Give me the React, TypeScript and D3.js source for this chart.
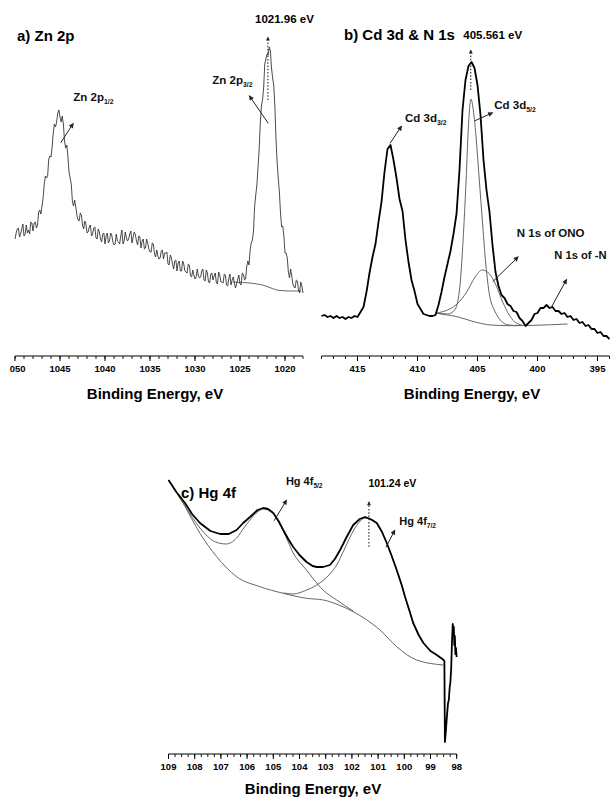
import React from "react";
import * as d3 from "d3";

const FONT = "'Liberation Sans', Arial, Helvetica, sans-serif";

// ---------- a) Zn 2p ----------
const znStartEV = 1050;
const znStepEV = 0.125;
const znCounts = [
  61, 67, 71, 72, 63, 66, 71, 76, 64, 66, 75, 67, 70, 66, 78, 77, 69, 77, 78, 72,
  75, 88, 90, 86, 94, 102, 116, 124, 122, 124, 141, 144, 143, 153, 167, 176, 173, 178, 187, 190,
  183, 178, 184, 176, 159, 152, 155, 144, 128, 122, 116, 99, 94, 100, 93, 85, 80, 79, 87, 85,
  75, 71, 79, 76, 67, 68, 73, 75, 64, 66, 72, 73, 62, 61, 71, 68, 61, 58, 66, 67,
  56, 64, 67, 57, 59, 67, 65, 58, 55, 56, 66, 59, 58, 56, 64, 70, 56, 59, 68, 62,
  59, 61, 66, 69, 57, 63, 68, 65, 59, 55, 64, 63, 52, 59, 61, 51, 52, 61, 57, 51,
  48, 48, 57, 56, 46, 43, 50, 44, 41, 42, 49, 50, 41, 47, 47, 48, 36, 35, 45, 42,
  36, 31, 39, 40, 29, 37, 39, 29, 29, 39, 36, 29, 28, 27, 36, 35, 24, 23, 30, 25,
  21, 23, 31, 24, 22, 23, 29, 31, 20, 19, 30, 27, 18, 17, 26, 27, 20, 24, 27, 17,
  16, 28, 25, 18, 18, 17, 26, 25, 15, 14, 21, 26, 15, 20, 23, 17, 12, 16, 21, 25,
  16, 15, 27, 26, 20, 21, 34, 39, 35, 50, 57, 60, 69, 94, 105, 115, 132, 150, 176, 194,
  200, 212, 236, 241, 246, 245, 253, 249, 232, 222, 215, 194, 161, 138, 122, 108, 87, 73, 74, 64,
  47, 47, 42, 28, 22, 31, 24, 16, 13, 12, 20, 19, 10, 7, 18, 14, 7,
];
const znBgEV = [1025.8, 1024.7, 1023.9, 1023.1, 1022.5, 1022.0, 1021.4, 1020.9, 1020.2, 1019.4, 1018.2];
const znBgCounts = [18, 17.5, 17, 16, 15, 13.5, 11.5, 10, 9.3, 9, 9];
const znMajorTicks = [1050, 1045, 1040, 1035, 1030, 1025, 1020];

// ---------- b) Cd 3d & N 1s ----------
const cdStartEV = 418;
const cdStepEV = 0.25;
const cdCounts = [
  24, 25, 23, 24, 22, 24, 22, 23, 21, 23,
  22, 24, 23, 28, 33, 48, 67, 83, 96, 118,
  138, 168, 191, 195, 180, 162, 141, 129, 100, 78,
  60, 49, 36, 31, 26, 25, 24, 24, 25, 35,
  48, 63, 76, 89, 106, 126, 170, 230, 260, 274,
  278, 272, 255, 225, 180, 150, 128, 95, 68, 54,
  45, 42, 36, 34, 29, 28, 22, 19, 14, 17,
  20, 26, 27, 32, 32, 35, 32, 33, 29, 29,
  26, 27, 23, 24, 20, 21, 17, 18, 14, 15,
  11, 11, 7, 8, 4, 4, 1,
];
const cdBgEV = [408.4, 407.5, 406.7, 405.3, 403.9, 402.0, 400.3, 397.5];
const cdBgCounts = [26.7, 25, 23.3, 18.3, 15, 14.3, 14.7, 16];
const onoEV = [408.4, 407.5, 406.7, 405.9, 405.2, 404.6, 404.0, 403.5, 402.9, 402.4, 401.9, 401.3];
const onoCounts = [27, 30, 36, 48, 63, 70, 66, 56, 38, 26, 18, 15];
const cd52EV = [408.4, 407.5, 406.9, 406.5, 406.2, 405.95, 405.75, 405.55, 405.35, 405.1, 404.85, 404.6, 404.3, 404.0, 403.6, 403.1, 402.4, 401.5];
const cd52Counts = [27, 26, 30, 50, 100, 160, 215, 241, 230, 200, 160, 120, 75, 45, 30, 20, 15, 14.5];
const cdMajorTicks = [415, 410, 405, 400, 395];

// ---------- c) Hg 4f ----------
const hgEV = [
  109.0, 108.7, 108.37, 108.1, 107.8, 107.4, 107.03, 106.7, 106.4, 106.15,
  105.89, 105.6, 105.38, 105.2, 105.0, 104.8, 104.62, 104.43, 104.24, 104.0,
  103.73, 103.5, 103.34, 103.1, 102.84, 102.65, 102.45, 102.2, 101.95, 101.7,
  101.5, 101.3, 101.05, 100.85, 100.67, 100.48, 100.29, 100.1, 99.97, 99.8,
  99.66, 99.45, 99.27, 99.0, 98.76, 98.6, 98.5, 98.47, 98.45, 98.41,
  98.37, 98.33, 98.3, 98.27, 98.24, 98.21, 98.18, 98.15, 98.13, 98.11,
  98.09, 98.07, 98.05, 98.03, 98.0,
];
const hgCounts = [
  280, 268, 257, 246, 237, 229, 226, 226, 230, 237,
  243, 250, 252, 251, 247, 239, 230, 221, 213, 205,
  198, 194, 193, 193, 195, 201, 210, 223, 235, 241,
  243, 241, 237, 228, 217, 204, 190, 175, 163, 149,
  137, 125, 117, 109, 105, 102, 100, 99, 18, 30,
  45, 57, 60, 72, 78, 92, 118, 136, 126, 133,
  115, 124, 106, 112, 103,
];
const hgBgEV = [109.0, 108.44, 107.8, 107.16, 106.4, 105.51, 104.62, 103.73, 103.09, 102.5, 101.95, 100.93, 100.29, 99.53, 98.51];
const hgBgCounts = [280, 256.7, 226.7, 203.3, 183.3, 173.3, 166.7, 161.7, 160, 155, 148.3, 130, 113.3, 100, 95];
const hg52EV = [109.0, 108.44, 107.8, 107.2, 106.8, 106.4, 106.1, 105.89, 105.6, 105.38, 105.2, 105.0, 104.8, 104.62, 104.43, 104.24, 104.0, 103.73, 103.5, 103.1, 102.58, 101.95];
const hg52Counts = [280, 257, 232, 218, 216, 222, 233, 240, 248, 251, 250, 246, 238, 229, 218, 207, 198, 190, 182, 170, 160, 149];
const hg72EV = [104.62, 104.24, 103.73, 103.34, 102.84, 102.58, 102.3, 102.07, 101.75, 101.5, 101.3, 101.05, 100.85, 100.67, 100.48, 100.29, 100.1, 99.97, 99.8, 99.66, 99.45, 99.27, 99.0, 98.76, 98.6, 98.5];
const hg72Counts = [167, 166, 170, 175, 186, 195, 210, 223, 237, 242, 241, 237, 228, 217, 204, 190, 175, 163, 149, 137, 125, 117, 109, 105, 102, 100];
const hgMajorTicks = [109, 108, 107, 106, 105, 104, 103, 102, 101, 100, 99, 98];

// ---------- scales ----------
const xA = d3.scaleLinear().domain([1050, 1018]).range([15, 303]);
const yA = d3.scaleLinear().domain([0, 260]).range([300, 40]);
const xB = d3.scaleLinear().domain([418, 394]).range([321.5, 609.5]);
const yB = d3.scaleLinear().domain([0, 280]).range([340, 60]);
const xC = d3.scaleLinear().domain([109, 98]).range([168.5, 456.7]);
const yC = d3.scaleLinear().domain([0, 300]).range([760, 460]);

type Sc = d3.ScaleLinear<number, number>;

function linePath(xs: number[], ys: number[], x: Sc, y: Sc, curve: any = d3.curveLinear) {
  const pts = xs.map((e, i) => [e, ys[i]] as [number, number]);
  return d3.line<[number, number]>().x((d) => x(d[0])).y((d) => y(d[1])).curve(curve)(pts) || "";
}

function XAxis({ x, y, majors, minorStep, clip }: { x: Sc; y: number; majors: number[]; minorStep: number; clip?: string }) {
  const [d0, d1] = x.domain();
  const lo = Math.min(d0, d1), hi = Math.max(d0, d1);
  const minors = d3.range(Math.ceil(lo / minorStep - 1e-6) * minorStep, hi + 1e-6, minorStep);
  const [r0, r1] = x.range();
  return (
    <g>
      <line x1={r0} x2={r1} y1={y} y2={y} stroke="#000" strokeWidth={1} />
      {minors.map((v, i) => (
        <line key={"m" + i} x1={x(v)} x2={x(v)} y1={y} y2={y + 3} stroke="#000" strokeWidth={0.9} />
      ))}
      {majors.map((v) => (
        <line key={"M" + v} x1={x(v)} x2={x(v)} y1={y} y2={y + 5} stroke="#000" strokeWidth={1} />
      ))}
      <g clipPath={clip ? `url(#${clip})` : undefined}>
        {majors.map((v) => (
          <text key={"t" + v} x={x(v)} y={y + 15.5} textAnchor="middle" fontSize={9.5} fontWeight="bold">
            {v}
          </text>
        ))}
      </g>
    </g>
  );
}

function Arrow({ x, y, from, to }: { x: Sc; y: Sc; from: number[]; to: number[] }) {
  return (
    <line x1={x(from[0])} y1={y(from[1])} x2={x(to[0])} y2={y(to[1])} stroke="#222" strokeWidth={1} markerEnd="url(#ah)" />
  );
}

function Dotted({ x, y, e, i0, i1 }: { x: Sc; y: Sc; e: number; i0: number; i1: number }) {
  return (
    <line x1={x(e)} x2={x(e)} y1={y(i0)} y2={y(i1)} stroke="#222" strokeWidth={1.1} strokeDasharray="1.5,1.8" markerEnd="url(#ahs)" />
  );
}

function PeakLabel({ x, y, e, i, main, sub, size = 11.5 }: { x: Sc; y: Sc; e: number; i: number; main: string; sub?: string; size?: number }) {
  return (
    <text x={x(e)} y={y(i)} fontSize={size} fontWeight="bold" fill="#111">
      {main}
      {sub ? (
        <tspan fontSize={size * 0.6} dy={3}>
          {sub}
        </tspan>
      ) : null}
    </text>
  );
}

export default function App() {
  const znEV = znCounts.map((_, k) => znStartEV - k * znStepEV);
  const cdEV = cdCounts.map((_, k) => cdStartEV - k * cdStepEV);
  return (
    <svg
      width={610}
      height={798}
      style={{ position: "absolute", left: 0, top: 0, display: "block", background: "#fff" }}
      fontFamily={FONT}
    >
      <defs>
        <marker id="ah" viewBox="0 0 10 10" refX={9} refY={5} markerWidth={6} markerHeight={5} markerUnits="userSpaceOnUse" orient="auto">
          <path d="M0,0 L10,5 L0,10 z" fill="#222" />
        </marker>
        <marker id="ahs" viewBox="0 0 10 10" refX={9} refY={5} markerWidth={5} markerHeight={4} markerUnits="userSpaceOnUse" orient="auto">
          <path d="M0,0 L10,5 L0,10 z" fill="#222" />
        </marker>
        <clipPath id="clipA">
          <rect x={10} y={340} width={300} height={50} />
        </clipPath>
      </defs>

      {/* ---------- Panel a ---------- */}
      <text x={17} y={41} fontSize={15} fontWeight="bold">a) Zn 2p</text>
      <path d={linePath(znBgEV, znBgCounts, xA, yA, d3.curveMonotoneX)} fill="none" stroke="#666" strokeWidth={1} />
      <path d={linePath(znEV, znCounts, xA, yA)} fill="none" stroke="#2a2a2a" strokeWidth={0.85} />
      <Dotted x={xA} y={yA} e={1021.9} i0={200} i1={263} />
      <text x={xA(1023.33)} y={yA(276.7)} fontSize={11.5} fontWeight="bold">1021.96 eV</text>
      <PeakLabel x={xA} y={yA} e={1043.52} i={199} main="Zn 2p" sub="1/2" />
      <PeakLabel x={xA} y={yA} e={1028.08} i={216.5} main="Zn 2p" sub="3/2" />
      <Arrow x={xA} y={yA} from={[1044.92, 157.3]} to={[1043.52, 176.7]} />
      <Arrow x={xA} y={yA} from={[1021.86, 176.7]} to={[1023.97, 204.3]} />
      <XAxis x={xA} y={356} majors={znMajorTicks} minorStep={1} clip="clipA" />
      <text x={155} y={399} textAnchor="middle" fontSize={15} fontWeight="bold">Binding Energy, eV</text>

      {/* ---------- Panel b ---------- */}
      <text x={344} y={40} fontSize={15} fontWeight="bold">b) Cd 3d &amp; N 1s</text>
      <path d={linePath(cdBgEV, cdBgCounts, xB, yB, d3.curveMonotoneX)} fill="none" stroke="#666" strokeWidth={1} />
      <path d={linePath(onoEV, onoCounts, xB, yB, d3.curveMonotoneX)} fill="none" stroke="#666" strokeWidth={1} />
      <path d={linePath(cd52EV, cd52Counts, xB, yB, d3.curveMonotoneX)} fill="none" stroke="#666" strokeWidth={1} />
      <path d={linePath(cdEV, cdCounts, xB, yB)} fill="none" stroke="#000" strokeWidth={1.8} strokeLinejoin="round" />
      <Dotted x={xB} y={yB} e={405.561} i0={250} i1={290} />
      <text x={xB(406.18)} y={yB(301)} fontSize={11.5} fontWeight="bold">405.561 eV</text>
      <PeakLabel x={xB} y={yB} e={411.04} i={218.3} main="Cd 3d" sub="3/2" />
      <PeakLabel x={xB} y={yB} e={403.6} i={231} main="Cd 3d" sub="5/2" />
      <PeakLabel x={xB} y={yB} e={401.73} i={103.3} main="N 1s of ONO" />
      <PeakLabel x={xB} y={yB} e={398.6} i={81} main="N 1s of -N" size={11.2} />
      <Arrow x={xB} y={yB} from={[412.29, 196.7]} to={[411.32, 214]} />
      <Arrow x={xB} y={yB} from={[405.21, 219.3]} to={[403.73, 227.3]} />
      <Arrow x={xB} y={yB} from={[403.73, 58.3]} to={[401.6, 83.3]} />
      <Arrow x={xB} y={yB} from={[398.82, 33.3]} to={[397.57, 60.7]} />
      <XAxis x={xB} y={356} majors={cdMajorTicks} minorStep={1} />
      <text x={472} y={399} textAnchor="middle" fontSize={15} fontWeight="bold">Binding Energy, eV</text>

      {/* ---------- Panel c ---------- */}
      <text x={181} y={498} fontSize={15} fontWeight="bold">c) Hg 4f</text>
      <path d={linePath(hgBgEV, hgBgCounts, xC, yC, d3.curveMonotoneX)} fill="none" stroke="#666" strokeWidth={1} />
      <path d={linePath(hg52EV, hg52Counts, xC, yC, d3.curveMonotoneX)} fill="none" stroke="#666" strokeWidth={1} />
      <path d={linePath(hg72EV, hg72Counts, xC, yC, d3.curveMonotoneX)} fill="none" stroke="#666" strokeWidth={1} />
      <path d={linePath(hgEV, hgCounts, xC, yC)} fill="none" stroke="#000" strokeWidth={1.8} strokeLinejoin="round" />
      <Dotted x={xC} y={yC} e={101.35} i0={213.3} i1={258.3} />
      <text x={xC(101.37)} y={yC(272.7)} fontSize={10.5} fontWeight="bold">101.24 eV</text>
      <PeakLabel x={xC} y={yC} e={104.52} i={275} main="Hg 4f" sub="5/2" size={11} />
      <PeakLabel x={xC} y={yC} e={100.19} i={235} main="Hg 4f" sub="7/2" size={11} />
      <Arrow x={xC} y={yC} from={[104.97, 239.3]} to={[104.49, 260]} />
      <Arrow x={xC} y={yC} from={[100.7, 212.7]} to={[100.36, 230]} />
      <XAxis x={xC} y={754} majors={hgMajorTicks} minorStep={0.25} />
      <text x={313} y={794} textAnchor="middle" fontSize={15} fontWeight="bold">Binding Energy, eV</text>
    </svg>
  );
}
